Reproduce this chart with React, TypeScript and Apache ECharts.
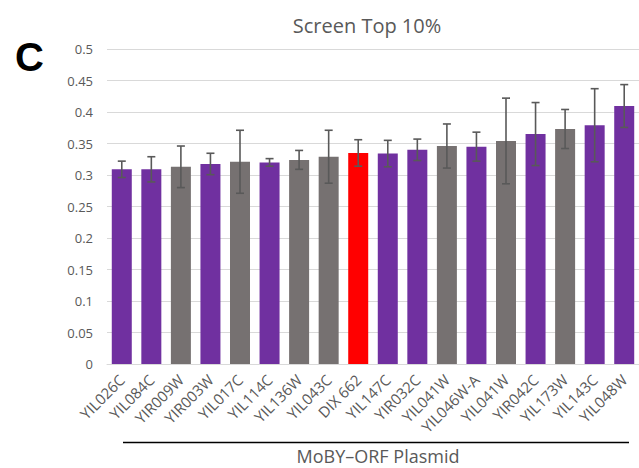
import React, { useEffect, useRef } from "react";
import * as echarts from "echarts";

const categories = [
  "YIL026C", "YIL084C", "YIR009W", "YIR003W", "YIL017C", "YIL114C", "YIL136W", "YIL043C", "DIX 662",
  "YIL147C", "YIR032C", "YIL041W", "YIL046W-A", "YIL041W", "YIR042C", "YIL173W", "YIL143C", "YIL048W",
];
const values = [
  0.309, 0.309, 0.313, 0.3175, 0.321, 0.32, 0.324, 0.329, 0.335,
  0.334, 0.34, 0.346, 0.345, 0.354, 0.365, 0.373, 0.379, 0.4095,
];
const errors = [
  0.013, 0.02, 0.033, 0.017, 0.05, 0.006, 0.015, 0.042, 0.021,
  0.021, 0.017, 0.035, 0.023, 0.068, 0.05, 0.031, 0.058, 0.034,
];
const groups = ["P", "P", "G", "P", "G", "P", "G", "G", "R", "P", "P", "G", "P", "G", "P", "G", "P", "P"];
const groupColors: Record<string, string> = { P: "#7030A0", G: "#767171", R: "#FF0000" };
const yTicks = [0, 0.05, 0.1, 0.15, 0.2, 0.25, 0.3, 0.35, 0.4, 0.45, 0.5];

const FONT = "'Open Sans', 'Noto Sans', sans-serif";

export default function App() {
  const ref = useRef<HTMLDivElement>(null);
  useEffect(() => {
    if (!ref.current) return;
    const chart = echarts.init(ref.current, null, { renderer: "svg" });
    chart.setOption({
      animation: false,
      backgroundColor: "#ffffff",
      grid: { left: 107, right: -8, top: 49, bottom: 104 },
      xAxis: {
        type: "category",
        data: categories,
        axisLine: { lineStyle: { color: "#d9d9d9", width: 1 } },
        axisTick: { show: false },
        axisLabel: {
          interval: 0,
          rotate: 45,
          margin: 13,
          color: "#595959",
          fontSize: 15,
          fontFamily: FONT,
        },
      },
      yAxis: {
        type: "value",
        min: yTicks[0],
        max: yTicks[yTicks.length - 1],
        interval: 0.05,
        axisLine: { show: false },
        axisTick: { show: false },
        splitLine: { lineStyle: { color: "#d9d9d9", width: 1 } },
        axisLabel: {
          margin: 14,
          color: "#595959",
          fontSize: 13,
          fontFamily: FONT,
          formatter: (v: number) => String(+v.toFixed(2)),
        },
      },
      series: [
        {
          type: "bar",
          barWidth: 20,
          data: values.map((v, i) => ({
            value: v,
            itemStyle: { color: groupColors[groups[i]] },
          })),
        },
        {
          type: "custom",
          z: 5,
          data: values.map((v, i) => [i, v - errors[i], v + errors[i]]),
          renderItem: (params: any, api: any) => {
            const x = api.value(0);
            const lo = api.coord([x, api.value(1)]);
            const hi = api.coord([x, api.value(2)]);
            const cap = 4;
            const style = { stroke: "#595959", lineWidth: 1.6 };
            return {
              type: "group",
              children: [
                { type: "line", shape: { x1: hi[0], y1: hi[1], x2: lo[0], y2: lo[1] }, style },
                { type: "line", shape: { x1: hi[0] - cap, y1: hi[1], x2: hi[0] + cap, y2: hi[1] }, style },
                { type: "line", shape: { x1: lo[0] - cap, y1: lo[1], x2: lo[0] + cap, y2: lo[1] }, style },
              ],
            };
          },
        },
      ],
      graphic: [
        {
          type: "text",
          x: 367,
          y: 25,
          style: {
            text: "Screen Top 10%",
            fill: "#595959",
            font: `20px ${FONT}`,
            textAlign: "center",
            textVerticalAlign: "middle",
          },
        },
        {
          type: "text",
          x: 15,
          y: 57,
          style: {
            text: "C",
            fill: "#000000",
            font: "bold 40px 'Liberation Sans', Arial, sans-serif",
            textAlign: "left",
            textVerticalAlign: "middle",
          },
        },
        {
          type: "line",
          shape: { x1: 123, y1: 442.5, x2: 629, y2: 442.5 },
          style: { stroke: "#000000", lineWidth: 1.5 },
        },
        {
          type: "text",
          x: 378,
          y: 456,
          style: {
            text: "MoBY\u2013ORF Plasmid",
            fill: "#595959",
            font: `18px ${FONT}`,
            textAlign: "center",
            textVerticalAlign: "middle",
          },
        },
      ],
    });
    return () => chart.dispose();
  }, []);
  return (
    <div
      ref={ref}
      style={{ position: "absolute", left: 0, top: 0, width: 639, height: 468 }}
    />
  );
}
